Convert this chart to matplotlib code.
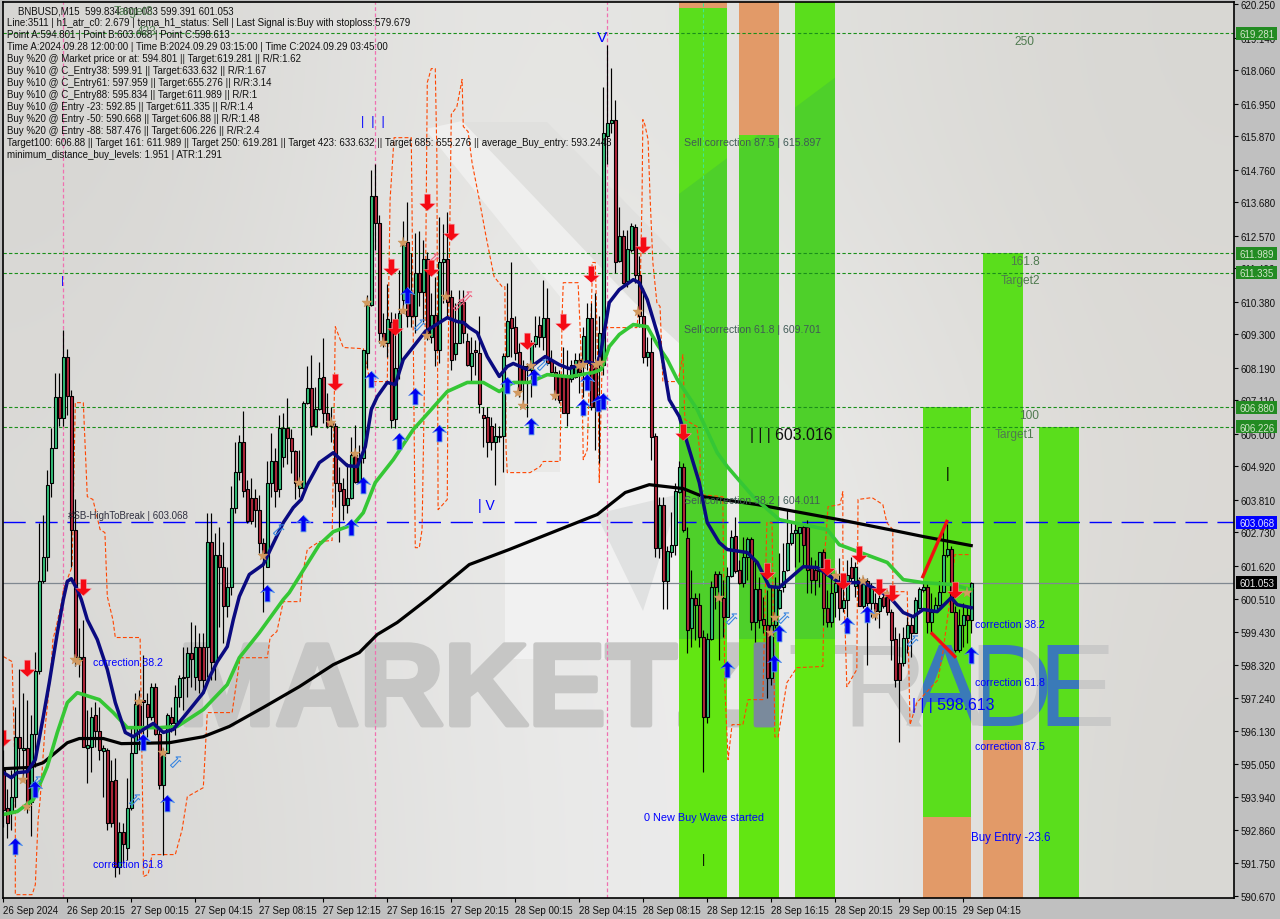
import numpy as np
import matplotlib
matplotlib.use('Agg')
import matplotlib.pyplot as plt
import matplotlib.patheffects as pe
from matplotlib.patches import Polygon, Rectangle
from matplotlib.path import Path
from matplotlib.transforms import Affine2D, Bbox, TransformedBbox

# BNBUSD M15 candles
body_top = [
    594.86,593.57,593.96,595.95,595.95,595.59,595.56,596.05,598.14,601.10,
    601.92,604.31,605.51,607.23,607.23,608.56,608.56,607.26,602.79,598.61,
    598.61,595.66,596.62,596.68,596.15,595.56,595.52,594.49,594.53,592.80,
    592.80,593.60,595.42,597.05,597.05,597.18,597.02,597.61,597.61,596.05,
    595.39,596.68,596.62,597.28,597.91,597.94,598.71,598.71,598.94,598.94,
    598.94,602.42,602.42,601.99,601.99,601.59,600.93,603.55,604.74,605.71,
    605.71,604.15,603.88,603.88,603.48,602.39,604.38,605.11,605.11,606.20,
    606.20,606.20,605.87,605.44,604.38,607.03,607.50,607.50,606.83,607.86,
    607.89,606.70,606.37,606.24,604.38,604.15,603.88,605.31,605.31,605.21,
    608.79,610.28,613.90,613.90,613.00,609.35,609.82,609.69,608.19,610.02,
    612.27,612.37,610.68,611.34,611.34,611.81,611.81,609.95,609.95,611.68,
    611.81,611.78,610.52,609.02,610.38,610.38,609.06,608.69,608.79,608.69,
    606.63,606.57,606.24,605.94,605.94,608.59,609.75,609.85,609.55,608.72,
    608.23,608.23,608.96,609.25,609.59,609.85,609.85,608.46,608.06,607.96,
    607.89,607.89,608.29,608.43,608.43,609.25,609.85,609.85,608.36,609.35,
    615.99,616.29,616.42,616.42,612.57,612.57,612.14,612.90,612.87,611.28,
    609.89,608.72,608.72,605.94,603.62,603.62,602.12,602.32,604.11,604.91,
    604.91,602.55,600.56,600.56,600.33,599.27,599.20,600.90,601.36,601.36,
    600.56,601.29,602.59,602.62,601.49,601.92,602.52,602.52,600.86,600.86,
    599.87,599.64,599.67,600.96,600.83,601.43,602.36,602.72,602.82,602.89,
    602.92,602.92,601.56,601.49,602.09,602.09,600.23,600.73,601.06,601.10,
    600.50,601.33,601.59,601.59,601.16,601.10,601.13,600.96,600.40,600.56,
    600.60,600.60,600.07,599.20,598.41,599.24,599.67,599.67,600.50,600.86,
    600.90,600.90,600.07,600.33,600.76,601.99,602.19,602.19,600.07,599.64,
    600.00,600.00,601.053]
body_bot = [
    593.53,593.10,593.43,593.96,595.56,595.52,593.63,593.80,596.05,598.14,
    601.10,601.92,604.35,605.54,606.53,606.53,607.26,602.79,598.61,598.51,
    595.62,595.59,595.62,596.15,595.52,595.49,593.10,593.10,591.64,591.64,
    592.40,592.27,593.60,595.42,596.29,597.11,596.62,596.62,596.05,594.36,
    594.36,595.42,596.42,596.42,597.28,597.91,597.94,598.54,597.94,597.84,
    597.84,598.94,598.44,598.44,601.59,600.27,600.27,600.93,603.55,604.74,
    604.11,603.12,603.12,603.48,602.39,602.06,601.59,604.38,604.11,604.15,
    605.24,605.87,605.44,604.38,604.21,604.21,607.03,606.24,606.27,606.83,
    606.70,606.24,606.24,604.38,604.11,603.65,603.65,603.88,604.41,604.41,
    605.21,608.69,610.28,613.00,609.35,609.02,609.02,606.47,606.50,608.19,
    610.45,609.89,609.89,609.89,610.71,610.71,609.35,609.22,608.79,608.79,
    611.68,610.38,608.46,608.66,609.02,609.35,608.29,608.26,608.72,606.97,
    606.53,605.74,605.74,605.74,605.90,605.94,608.59,609.52,608.69,607.46,
    607.73,608.13,608.13,608.96,609.22,609.22,608.36,608.06,607.30,607.13,
    606.70,606.70,607.80,607.89,608.06,608.36,608.36,606.87,606.90,608.29,
    608.29,615.86,616.29,611.71,611.74,611.01,611.05,612.11,611.28,609.89,
    608.56,608.56,605.90,602.22,602.22,601.13,601.13,602.09,602.32,604.08,
    602.82,599.50,599.57,600.33,599.27,596.62,596.62,599.20,600.90,600.60,
    599.93,599.93,601.29,601.46,601.06,601.06,601.92,599.74,599.74,599.83,
    599.64,597.91,597.91,599.67,600.23,600.90,601.49,602.36,602.72,602.72,
    602.32,601.49,601.16,601.16,601.46,600.23,599.77,599.77,600.76,600.23,
    600.23,600.50,601.23,600.96,600.27,600.27,600.40,600.40,600.13,600.13,
    600.27,600.07,599.17,597.84,597.84,598.38,599.24,599.40,599.40,600.23,
    600.80,599.74,599.74,600.07,600.33,600.76,601.99,600.07,598.81,598.81,
    599.64,599.83,599.834]
highs = [
    595.52,594.20,594.86,596.95,598.18,597.41,597.18,596.68,598.77,603.05,
    603.32,604.81,606.20,608.00,608.00,609.45,608.82,607.46,603.82,599.57,
    599.83,596.85,596.95,597.11,596.95,595.69,595.59,595.19,595.26,593.13,
    593.10,594.59,596.29,597.41,597.51,598.67,597.41,597.74,597.74,596.25,
    595.59,596.75,596.95,597.68,598.01,598.94,598.94,599.74,599.67,599.40,
    599.40,603.38,603.38,602.72,602.92,602.42,601.59,604.25,605.71,605.97,
    606.77,604.48,604.54,604.15,603.98,602.55,605.08,606.04,605.54,606.63,
    606.70,607.20,606.14,605.47,605.47,607.07,608.23,608.62,607.56,608.39,
    609.19,607.36,606.90,606.37,604.91,604.54,605.04,605.90,606.30,605.64,
    608.79,610.61,614.76,614.93,613.27,610.02,610.95,610.05,610.02,611.44,
    613.04,613.67,612.01,612.67,612.71,612.44,612.04,610.68,611.21,613.20,
    612.94,613.37,610.78,610.35,610.78,610.78,609.35,609.22,609.12,609.89,
    606.90,606.90,606.57,606.37,606.24,608.69,611.01,611.68,609.89,609.02,
    608.46,608.36,609.12,609.89,609.89,611.11,610.85,608.79,608.23,608.13,
    608.86,608.79,608.46,608.69,608.69,609.55,610.35,610.35,610.68,609.89,
    617.51,618.91,618.14,617.08,613.53,612.77,612.77,613.00,612.94,611.88,
    610.85,609.22,609.22,606.04,603.91,603.91,602.26,603.42,604.38,605.08,
    605.04,602.92,601.49,600.73,600.73,599.50,599.40,601.10,601.43,601.43,
    601.16,601.59,602.82,603.25,601.82,602.59,602.59,602.59,601.82,601.26,
    600.60,600.83,600.93,601.26,602.06,602.39,603.48,603.05,603.05,602.92,
    602.99,603.15,601.92,601.82,602.09,602.16,600.83,601.39,601.39,601.89,
    601.06,601.82,601.92,601.73,601.26,601.26,601.23,601.06,600.73,601.06,
    600.83,600.83,600.17,599.60,599.40,599.60,599.93,599.93,600.60,600.90,
    601.06,601.06,600.73,600.60,601.10,602.82,602.99,602.26,600.27,600.17,
    600.40,600.27,601.083]
lows = [
    592.97,592.60,592.87,593.63,594.93,594.53,593.43,592.64,594.96,598.04,
    601.06,601.46,603.91,605.54,606.24,606.24,606.63,601.59,598.28,597.94,
    595.62,594.43,594.79,595.62,595.19,593.96,592.87,592.97,591.28,591.38,
    591.77,591.87,593.53,595.42,595.52,595.75,595.95,596.52,596.02,594.20,
    592.04,595.42,596.09,596.02,596.92,596.85,597.28,597.61,597.51,597.41,
    597.41,597.94,597.84,597.84,599.60,599.07,599.93,600.66,603.38,604.48,
    603.91,603.05,602.99,602.92,602.06,600.07,601.59,603.91,603.58,603.91,
    604.91,604.98,604.71,603.82,603.91,604.15,606.97,605.97,606.24,606.80,
    606.37,606.20,605.71,603.58,602.42,603.15,603.38,603.82,604.38,604.38,
    605.04,608.19,610.22,612.11,609.02,608.89,608.56,606.20,606.20,607.80,
    610.02,609.55,609.55,609.35,610.22,609.69,609.12,609.02,608.23,608.36,
    610.35,609.89,608.13,608.46,609.02,609.02,608.23,607.70,607.96,606.70,
    605.57,605.24,605.47,604.31,605.74,604.74,608.56,608.56,608.46,607.23,
    606.90,606.57,607.23,608.89,608.89,608.79,608.29,608.03,607.13,607.03,
    606.70,606.24,607.70,607.86,607.36,607.23,608.13,606.80,605.47,605.04,
    607.96,614.93,615.99,611.34,611.68,610.95,610.88,612.04,611.01,609.55,
    608.36,608.23,605.14,601.92,601.89,600.17,600.17,601.92,601.99,604.05,
    602.75,598.74,598.94,599.17,598.94,594.79,596.42,599.17,600.17,598.51,
    599.27,599.93,601.26,601.39,601.00,600.93,601.16,599.50,599.10,599.57,
    599.40,597.25,597.68,599.57,600.17,600.76,601.43,602.32,601.59,601.73,
    601.66,600.73,600.73,600.66,600.93,599.67,599.60,599.60,599.93,599.83,
    600.07,599.74,601.06,600.60,600.27,600.23,598.34,599.93,599.83,599.57,
    600.23,600.00,598.51,597.61,595.76,598.28,598.74,598.61,599.40,600.17,
    600.76,599.40,599.40,600.07,600.27,600.76,601.92,600.07,598.77,598.77,
    598.94,599.07,599.391]
candle_dirs = ("RRGGRGRGGG" "GGGGRGRRRG" "RGGRRGRRRG" "RGGGRRRGRR" "GGRGGGGRGR"
               "RGRGRRGGGG" "RRRRRRGGRG" "GRRRGGGRGG" "RRRRRRGGRG" "GGGRRRGRGG"
               "GRRGRGRGRG" "GRRGGRRGRR" "RRRGGGGRRR" "RRGGRGRRRR" "RRGGRGGRRG"
               "GGGRGRGGRR" "RGRRGRGGGG" "RRGRRRGGRG" "RGGRRGGRGR" "RRGGGGGGGG"
               "RRRRGRRGGR" "GGRGRGRGRG" "RRRRRGGRGG" "GRGGGGGRRG" "GRG")

# moving averages as (bar, price) knots
tema_pts = [(0,594.76),(2,594.59),(3.5,594.76),(6,594.79),(8,595.19),(10,596.62),(11.5,597.75),
    (13.5,599.40),(15,600.50),(16,601.10),(17,601.19),(18.5,600.83),(19.5,600.50),(21,599.83),
    (23.5,599.17),(26,598.18),(28,597.08),(30.5,596.09),(32.5,595.95),(35,596.19),(37.5,596.39),
    (40,596.09),(42.5,596.19),(46,596.75),(50,597.41),(51.5,597.91),(53.5,598.44),(56,598.94),
    (57.5,599.83),(59,600.60),(61.5,601.33),(65,601.66),(67,602.22),(70,603.05),(72.5,603.55),
    (74.5,603.82),(76,604.31),(79,605.04),(82.5,605.37),(86,604.94),(88.5,604.91),(90.5,605.57),
    (92,606.80),(93.5,607.23),(96,607.70),(98,607.63),(100,608.46),(105.5,609.39),(111,609.85),
    (113.5,609.72),(115,609.69),(116.5,609.52),(118.5,609.35),(121,608.56),(124,607.90),(126,608.23),
    (127.5,608.33),(131,608.13),(135.5,608.56),(139,608.29),(141.5,608.16),(146,608.39),(148.5,608.29),
    (149.5,608.79),(151.5,610.35),(154,610.78),(157.5,611.11),(159,611.01),(161,610.45),(164,609.12),
    (166.5,607.13),(169,606.57),(174,604.38),(176,603.05),(179,602.39),(181,602.16),(186,602.06),
    (188.5,601.73),(191.5,600.93),(194,600.90),(200,601.59),(203.5,601.56),(209,601.06),(215,601.06),
    (221.5,600.60),(225,600.07),(227.5,599.93),(230,600.17),(233.5,600.10),(237,600.56),(238.5,600.33),
    (242,600.23)]
green_pts = [(0,593.37),(3.5,593.47),(7.5,593.86),(11,594.96),(13.5,596.09),(16,597.08),(18.5,597.41),
    (24,597.18),(27.5,596.75),(31,596.25),(34,596.25),(39,596.25),(43.5,596.29),(50,596.85),(56,597.68),
    (59,598.57),(64,599.40),(70,600.50),(71.5,600.73),(79,602.32),(82.5,602.75),(87.5,602.99),(90,603.38),
    (93,604.38),(97.5,605.14),(102.5,606.14),(106.5,606.73),(111,607.40),(116,607.70),(120,607.70),
    (124,607.40),(127.5,607.70),(131.5,607.70),(136,607.96),(141.5,607.89),(147.5,608.03),(149.5,608.13),
    (151.5,608.89),(154,609.29),(157.5,609.62),(161,609.55),(163.5,608.96),(166,608.46),(168.5,607.80),
    (173.5,606.80),(178.5,605.37),(181,604.91),(187.5,603.91),(194,603.15),(206,602.82),(209,602.32),
    (221,601.73),(225,601.16),(230,601.06),(237,601.00),(242,600.83)]
black_pts = [(0,594.89),(6.5,594.93),(10,595.09),(16,595.75),(19,595.89),(25,595.89),(29.5,595.72),
    (41.5,595.75),(50,595.95),(56.5,596.29),(65,596.92),(74,597.61),(82.5,598.34),(89,598.74),(93.5,599.34),
    (98.5,599.74),(106.5,600.56),(116.5,601.66),(126.5,602.16),(139,602.82),(148.5,603.32),(155.5,604.05),
    (161.5,604.31),(170,604.18),(175,603.91),(188.5,603.65),(209,603.15),(221.5,602.82),(230,602.59),(242,602.29)]
band_pts = [(0,598.61),(2.2,598.44),(3,594.53),(3,590.71),(7.2,590.71),(8,591.04),(8.7,593.20),(9.2,593.86),
    (10.4,596.19),(11.7,597.84),(12.4,599.17),(13.4,599.70),(14.7,600.50),(15,600.83),(17.2,601.59),(18,607.03),
    (20,607.03),(21,603.91),(22.4,603.82),(24.2,602.82),(25.4,602.72),(26,600.60),(27.4,599.83),(28,599.24),
    (34.2,599.24),(35,592.31),(35,591.31),(36.2,591.38),(37.2,592.04),(43,592.04),(44.7,592.87),(46,593.96),
    (50,594.26),(51,596.75),(57.2,596.75),(59.2,598.57),(66,598.57),(66.7,599.24),(68.4,599.44),(70,600.43),
    (74.2,600.43),(74.7,601.26),(76,602.16),(79,602.42),(82.2,602.46),(82.5,604.91),(83,609.55),(85,608.86),
    (90,608.82),(91.7,607.73),(96,607.73),(96.7,613.77),(97.7,615.82),(102,615.82),(102.2,613.33),(103,602.22),
    (104,602.22),(104.7,602.82),(105.4,608.46),(106,617.65),(107,618.11),(108,618.11),(108.4,615.19),(108.7,603.48),
    (109.2,603.55),(111,603.82),(111.2,608.46),(112,616.59),(113.4,616.85),(114.7,617.75),(115,616.19),(116.2,616.02),
    (117.2,614.99),(119,613.77),(120.7,612.54),(122.7,611.21),(124.7,610.88),(125.4,610.88),(125.7,605.47),(126,604.71),
    (131.7,604.71),(134.2,604.91),(135,605.08),(139.2,605.08),(139.7,609.89),(140,611.01),(143.7,611.01),(144.2,609.55),
    (144.7,607.70),(145,605.14),(146,605.47),(146.2,606.37),(147.2,611.01),(147.2,611.68),(148,611.68),(148.2,610.78),
    (148.7,607.70),(149,604.38),(149.7,608.23),(150,609.52),(158.4,609.52),(159.2,610.55),(159.7,613.87),(159.9,616.42),
    (160.4,616.25),(161.2,615.76),(161.7,613.87),(162.4,611.68),(163.4,610.35),(164.2,610.22),(164.9,607.73),(168.7,607.73),
    (169.7,608.46),(169.9,608.62),(170.4,606.47),(173.4,606.24),(174.2,605.37),(174.2,603.98),(179.9,603.91),(180.4,597.61),
    (181.2,595.19),(182.2,596.35),(184.9,596.35),(186.2,597.18),(189.9,597.18),(190.9,603.05),(192.2,603.05),(192.9,595.95),
    (193.7,595.92),(195.9,597.74),(198.4,598.24),(204.9,598.28),(205.4,602.06),(206.2,603.58),(209.2,603.65),(209.9,604.08),
    (209.9,602.06),(210.9,597.61),(213.4,598.18),(213.7,603.82),(217.2,603.88),(219.9,603.65),(220.9,603.05),(222.4,602.82),
    (222.4,600.76),(226,600.76),(226.7,596.35),(228.4,597.08),(233.7,597.84),(234.9,598.74),(236.7,600.50),(237.9,601.99),
    (241.7,601.99)]

# signal markers
buy_arrows = [(2.9,592.34),(7.9,594.23),(34.9,595.79),(40.9,593.76),(65.9,600.73),(74.9,603.05),(86.9,602.92),
    (89.9,604.31),(91.9,607.80),(98.9,605.77),(102.9,607.26),(108.9,606.04),(100.9,610.61),(125.9,607.63),
    (132.7,607.89),(131.9,606.27),(144.9,606.90),(145.9,607.70),(148.7,607.03),(149.9,607.10),(180.9,598.18),
    (192.7,598.41),(193.9,599.40),(210.9,599.67),(215.9,600.03),(242,598.67)]
sell_arrows = [(0,595.92),(5.9,598.24),(19.9,600.93),(82.9,607.73),(96.9,611.54),(105.9,613.70),(111.9,612.70),
    (106.9,611.51),(97.9,609.55),(130.9,609.06),(139.9,609.72),(146.9,611.31),(159.9,612.27),(169.9,606.07),
    (190.9,601.43),(205.9,601.59),(209.9,601.10),(213.9,602.02),(218.9,600.90),(222.1,600.73),(237.9,600.83)]
stars = [(4.9,594.53),(5.9,593.63),(17.9,598.51),(18.7,598.44),(33.9,597.11),(39.9,595.42),(64.9,601.96),
    (73.9,604.38),(81.9,606.34),(87.9,605.34),(90.9,610.32),(94.9,609.02),(99.9,612.34),(99.9,610.08),
    (105.9,609.25),(110.7,610.52),(128.7,607.36),(129.9,606.93),(131.9,608.23),(137.9,607.26),(143.9,608.23),
    (144.9,608.29),(148.2,608.29),(149.2,608.33),(158.7,610.05),(178.9,600.56),(192.9,599.90),(191.9,599.40),
    (208.2,601.29),(214.9,601.10),(217.9,600.00),(220.9,600.70),(240.9,600.73)]
hollow_blue = [(7.9,594.46),(32.7,593.86),(42.9,595.12),(68.7,602.79),(103.9,609.62),(134.7,608.29),
    (181.9,599.87),(194.9,599.90),(227.2,599.14)]
hollow_pink = [(107.4,611.78),(113.7,610.28),(115.7,610.55)]
red_legs = [[(229.9,601.26),(235.9,603.09)], [(232.2,599.37),(237.9,598.61)]]

# price levels and zones
green_levels = [619.281, 611.989, 611.335, 606.88, 606.226]
stop_level = 603.068
last_price = 601.053
price_ticks = [620.25,619.14,618.06,616.95,615.87,614.76,613.68,612.57,611.49,610.38,609.30,608.19,607.11,606.00,
    604.92,603.81,602.73,601.62,600.51,599.43,598.32,597.24,596.13,595.05,593.94,592.86,591.75,590.67]
time_ticks = list(range(0, 241, 16))
time_labels = ['26 Sep 2024','26 Sep 20:15','27 Sep 00:15','27 Sep 04:15','27 Sep 08:15','27 Sep 12:15','27 Sep 16:15',
    '27 Sep 20:15','28 Sep 00:15','28 Sep 04:15','28 Sep 08:15','28 Sep 12:15','28 Sep 16:15','28 Sep 20:15',
    '29 Sep 00:15','29 Sep 04:15']
sell_zones = [(168.9,180.9,620.32),(183.9,193.9,620.32),(197.9,207.9,620.32)]
buy_zones = [(229.9,241.9,606.88),(244.9,254.9,611.989),(258.9,268.9,606.226)]
orange_zones = [(168.9,180.9,620.32,620.13),(183.9,193.9,620.32,615.92),(229.9,241.9,593.30,590.6),(244.9,254.9,595.85,590.6)]
separators = [15, 93, 151]
info_lines = [
    'Line:3511 | h1_atr_c0: 2.679 | tema_h1_status: Sell | Last Signal is:Buy with stoploss:579.679',
    'Point A:594.801 | Point B:603.068 | Point C:598.613',
    'Time A:2024.09.28 12:00:00 | Time B:2024.09.29 03:15:00 | Time C:2024.09.29 03:45:00',
    'Buy %20 @ Market price or at: 594.801 || Target:619.281 || R/R:1.62',
    'Buy %10 @ C_Entry38: 599.91 || Target:633.632 || R/R:1.67',
    'Buy %10 @ C_Entry61: 597.959 || Target:655.276 || R/R:3.14',
    'Buy %10 @ C_Entry88: 595.834 || Target:611.989 || R/R:1',
    'Buy %10 @ Entry -23: 592.85 || Target:611.335 || R/R:1.4',
    'Buy %20 @ Entry -50: 590.668 || Target:606.88 || R/R:1.48',
    'Buy %20 @ Entry -88: 587.476 || Target:606.226 || R/R:2.4',
    'Target100: 606.88 || Target 161: 611.989 || Target 250: 619.281 || Target 423: 633.632 || Target 685: 655.276 || average_Buy_entry: 593.2443',
    'minimum_distance_buy_levels: 1.951 | ATR:1.291']
trade_letters = [('T', 787), ('R', 842), ('A', 906), ('D', 968), ('E', 1037)]

W, H = 1280, 920
plt.rcParams['font.family'] = ['Liberation Sans', 'DejaVu Sans']

fig = plt.figure(figsize=(W/100, H/100), dpi=100, facecolor='#c0c0c0')
ax = fig.add_axes([3/W, 1-899/H, (1234-3)/W, (899-3)/H])
px = Affine2D().scale(1/W, -1/H).translate(0, 1) + fig.transFigure

# background gradient of the chart picture
bg = np.array([
    [[214,213,210],[232,232,230],[226,226,223],[216,215,211]],
    [[220,219,216],[234,234,233],[238,238,237],[220,218,214]],
    [[216,215,212],[230,230,229],[240,240,240],[216,215,211]]], dtype=float)/255
ax.imshow(bg, extent=(0, 1, 0, 1), transform=ax.transAxes, aspect='auto', interpolation='bicubic', zorder=0)
ax.set_xlim(-0.08, 307.7)
ax.set_ylim(590.6, 620.32)

# faded logo behind the chart
ax.add_patch(Polygon([(463,123),(547,123),(700,280),(700,420),(640,360)], closed=True, fc='#e0e0de', ec='none', transform=px, zorder=1))
ax.add_patch(Polygon([(425,130),(462,122),(650,320),(590,335)], closed=True, fc='#efefee', ec='none', transform=px, zorder=1))
ax.add_patch(Polygon([(560,277),(605,277),(680,345),(680,660),(505,660),(505,473),(560,473)], closed=True, fc='#f1f1f1', ec='none', transform=px, zorder=1))
ax.add_patch(Polygon([(596,515),(680,495),(643,612)], closed=True, fc='#e0e1e1', ec='none', transform=px, zorder=1))


def watermark(x, s, color, zorder, box=None, heavy=False):
    t = ax.text(x, 726, s, transform=px, fontsize=84, color=color, ha='left', va='baseline', zorder=zorder,
                fontweight='bold' if heavy else 'normal')
    if heavy:
        t.set_path_effects([pe.withStroke(linewidth=3.5, foreground=color)])
    if box is not None:
        t.set_clip_on(True)
        t.set_clip_box(TransformedBbox(Bbox([[box[0], 590.6], [box[1], box[2]]]), ax.transData))


watermark(178, 'MARKETZI', '#c6c6c5', 2, heavy=True)
for letter, x in trade_letters:
    watermark(x, letter, '#c9c9c8', 2)

# fibo zones
for z in sell_zones + buy_zones:
    ax.bar(z[0], z[2]-590.6, width=z[1]-z[0], bottom=590.6, align='edge', color='#5ade1c', zorder=3)
for z in orange_zones:
    ax.bar(z[0], z[2]-z[3], width=z[1]-z[0], bottom=z[3], align='edge', color='#e29a68', zorder=3.2)

sell_verts, sell_codes = [], []
for z in sell_zones:
    sell_verts += [(z[0],590.6),(z[1],590.6),(z[1],z[2]),(z[0],z[2]),(z[0],590.6)]
    sell_codes += [Path.MOVETO, Path.LINETO, Path.LINETO, Path.LINETO, Path.CLOSEPOLY]
sell_clip = Path(sell_verts, sell_codes)

shade = Polygon([(679,195),(860,60),(860,640),(679,640)], closed=True, fc='#4ed02a', ec='none', transform=px, zorder=3.1)
ax.add_patch(shade)
shade.set_clip_path(sell_clip, ax.transData)
low_patch = Polygon([(679,640),(860,640),(860,899),(679,899)], closed=True, fc='#62e612', ec='none', transform=px, zorder=3.1)
ax.add_patch(low_patch)
low_patch.set_clip_path(sell_clip, ax.transData)

# watermark letters showing through the zones
watermark(178, 'MARKETZI', '#7a8a9c', 3.3, box=(186.2, 193.9, 620.32), heavy=True)
for letter, x in trade_letters:
    for z in buy_zones:
        watermark(x, letter, '#3a7ab8', 3.3, box=z)

# period separators, levels
for s in separators:
    ax.axvline(s, color='#f070b0', lw=0.9, ls=(0, (3, 2)), zorder=4)
ax.plot([175, 175], [601.0, 620.32], color='#40e890', lw=0.8, ls=(0, (3, 2)), zorder=4)
for lv in green_levels:
    ax.axhline(lv, color='#1a8f1a', lw=0.8, ls=(0, (3, 2)), zorder=5)
ax.axhline(stop_level, color='#0000ff', lw=1.0, ls=(0, (16, 7)), zorder=5)
ax.axhline(last_price, color='#7f8890', lw=0.9, zorder=5)

band = np.array(band_pts)
ax.plot(band[:, 0], band[:, 1], color='#ff4500', lw=0.8, ls=(0, (3.5, 2)), zorder=6)

# candles
bar_x = np.arange(len(body_top))
body_top = np.array(body_top)
body_bot = np.array(body_bot)
ax.vlines(bar_x, lows, highs, color='black', lw=0.85, zorder=7)
up = np.array([c == 'G' for c in candle_dirs])
ax.bar(bar_x[up], (body_top-body_bot)[up], bottom=body_bot[up], width=0.72, color='#34c07a', edgecolor='black', lw=0.8, zorder=7.1)
ax.bar(bar_x[~up], (body_top-body_bot)[~up], bottom=body_bot[~up], width=0.72, color='#b2283c', edgecolor='black', lw=0.8, zorder=7.1)

# moving averages
pts = np.array(black_pts)
ax.plot(pts[:, 0], pts[:, 1], color='black', lw=2.3, zorder=8)
pts = np.array(green_pts)
ax.plot(pts[:, 0], pts[:, 1], color='#35c735', lw=2.6, zorder=8)
pts = np.array(tema_pts)
ax.plot(pts[:, 0], pts[:, 1], color='#0a0a80', lw=2.5, zorder=8.1)
for leg in red_legs:
    leg = np.array(leg)
    ax.plot(leg[:, 0], leg[:, 1], color='#f01010', lw=2.4, zorder=8.2)

# signal markers
up_arrow = [(0,1),(0.85,0.1),(0.3,0.3),(0.3,-1),(-0.3,-1),(-0.3,0.3),(-0.85,0.1)]
down_arrow = [(0,-1),(0.95,-0.15),(0.35,-0.1),(0.35,1),(-0.35,1),(-0.35,-0.1),(-0.95,-0.15)]
ne_arrow = [(1,1),(0.1,1),(0.4,0.7),(-0.9,-0.5),(-0.5,-0.9),(0.7,0.4),(1,0.1)]
pts = np.array(stars)
ax.plot(pts[:, 0], pts[:, 1], ls='none', marker='*', ms=8, mfc='#d39a60', mec='#c89058', mew=0.3, zorder=9)
pts = np.array(buy_arrows)
ax.plot(pts[:, 0], pts[:, 1], ls='none', marker=up_arrow, ms=12, mfc='#0000f0', mec='#5a9ae8', mew=0.6, zorder=9.2)
pts = np.array(sell_arrows)
ax.plot(pts[:, 0], pts[:, 1], ls='none', marker=down_arrow, ms=12, mfc='#f50a14', mec='#f8a0a8', mew=0.4, zorder=9.2)
pts = np.array(hollow_blue)
ax.plot(pts[:, 0], pts[:, 1], ls='none', marker=ne_arrow, ms=8, mfc='none', mec='#3a86e0', mew=0.8, zorder=9.1)
pts = np.array(hollow_pink)
ax.plot(pts[:, 0], pts[:, 1], ls='none', marker=ne_arrow, ms=8, mfc='none', mec='#f06080', mew=0.8, zorder=9.1)

# axes
ax.yaxis.tick_right()
ax.set_yticks(price_ticks)
ax.set_yticklabels(['%.3f' % p for p in price_ticks], fontsize=7, color='#101010')
ax.set_xticks(time_ticks)
ax.set_xticklabels(time_labels, fontsize=7, color='#101010', ha='left')
ax.tick_params(axis='both', length=3, width=0.8, pad=2, color='black')
for sp in ax.spines.values():
    sp.set_linewidth(1.2)
    sp.set_color('black')
    sp.set_zorder(20)

# price tags on the scale
for lv, col, txt in [(l, '#228b22', '#d0e4c8') for l in green_levels] + [(stop_level, '#0000ff', '#e0e0ff'), (last_price, '#000000', '#e8e8e8')]:
    ax.add_patch(Rectangle((1.0018, lv-0.215), 0.0335, 0.43, transform=ax.get_yaxis_transform(), fc=col, ec='none', clip_on=False, zorder=30))
    ax.text(1.0185, lv-0.02, '%.3f' % lv, transform=ax.get_yaxis_transform(), fontsize=7, color=txt, ha='center', va='center', clip_on=False, zorder=31)


def label(x, y, s, color='black', size=7.0, **kw):
    fig.text(x/W, 1-y/H, s, color=color, fontsize=size, va='center', ha='left', zorder=40, **kw)


# info block
label(18, 11, 'BNBUSD,M15  599.834 601.083 599.391 601.053', color='#111111')
for n, line in enumerate(info_lines):
    label(7, 23.5+12*n, line, color='#111111')
label(114, 12, 'Target3', color='#4f7a4f', size=8.6)
label(137, 32, '423', color='#4f7a4f', size=8.6)

# chart labels
level_gray = '#3f5a55'
label(684, 143, 'Sell correction 87.5 | 615.897', color=level_gray, size=7.6)
label(684, 330, 'Sell correction 61.8 | 609.701', color=level_gray, size=7.6)
label(684, 501, 'Sell correction 38.2 | 604.011', color=level_gray, size=7.6)
label(750, 436, '| | | 603.016', color='#111111', size=11.4)
label(912, 706, '| | | 598.613', color='#0000ff', size=11.4)
label(68, 516, '#SB-HighToBreak | 603.068', color='#303040', size=7)
for x, y, s in [(93,663,'correction 38.2'),(93,865,'correction 61.8'),(975,625,'correction 38.2'),
                (975,683,'correction 61.8'),(975,747,'correction 87.5')]:
    label(x, y, s, color='#0000ff', size=7.6)
label(971, 838, 'Buy Entry -23.6', color='#0000ff', size=8.3)
label(644, 818, '0 New Buy Wave started', color='#0000ff', size=7.8)
label(1010, 262, '161.8', color='#4f7a4f', size=8.6)
label(1001, 281, 'Target2', color='#4f7a4f', size=8.6)
label(1019, 416, '100', color='#4f7a4f', size=8.6)
label(995, 435, 'Target1', color='#4f7a4f', size=8.6)
label(1014, 42, '250', color='#4f7a4f', size=8.6)
label(597, 38, 'V', color='#0000ff', size=11)
label(478, 506, '| V', color='#0000ff', size=10)
label(361, 122, '|  |  |', color='#0000ff', size=9)
label(61, 281, '|', color='#0000ff', size=8)
label(946, 474, '|', color='black', size=10)
label(702, 860, '|', color='black', size=9)

fig.savefig('out.png', dpi=100, facecolor=fig.get_facecolor())
